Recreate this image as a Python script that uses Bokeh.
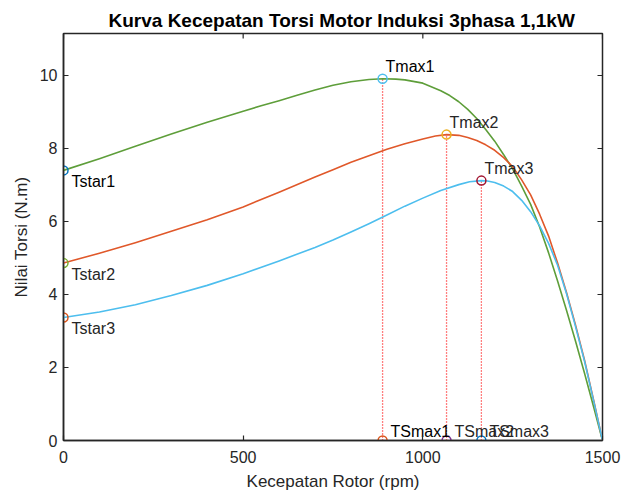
import math
from bokeh.plotting import figure
from bokeh.models import Range1d, FixedTicker
from bokeh.core.properties import value
from bokeh.embed import file_html
from bokeh.resources import INLINE

# ---- data ----
rpm1 = [0, 100, 200, 300, 400, 500, 550, 600, 650, 700, 750, 800, 850, 888, 925, 950, 1000, 1050, 1075, 1100,
        1125, 1150, 1175, 1200, 1225, 1250, 1275, 1300, 1325, 1350, 1375, 1400, 1425, 1450, 1475, 1500]
torque1 = [7.40, 7.72, 8.06, 8.40, 8.72, 9.02, 9.17, 9.31, 9.46, 9.60, 9.73, 9.83, 9.89, 9.91, 9.90, 9.88, 9.79, 9.58, 9.45, 9.28,
           9.07, 8.82, 8.52, 8.20, 7.83, 7.44, 6.97, 6.47, 5.85, 5.14, 4.37, 3.56, 2.72, 1.84, 0.93, 0.0]

rpm2 = [0, 100, 200, 300, 400, 500, 600, 700, 750, 800, 850, 900, 950, 1000, 1035, 1066, 1100, 1125, 1150, 1175,
        1200, 1225, 1250, 1275, 1300, 1325, 1350, 1375, 1400, 1425, 1450, 1475, 1500]
torque2 = [4.86, 5.13, 5.42, 5.73, 6.05, 6.40, 6.80, 7.22, 7.42, 7.62, 7.80, 7.98, 8.13, 8.26, 8.34, 8.38, 8.36, 8.30, 8.22, 8.10,
           7.95, 7.75, 7.50, 7.14, 6.73, 6.20, 5.60, 4.86, 4.05, 3.16, 2.20, 1.12, 0.0]

rpm3 = [0, 100, 200, 300, 400, 500, 600, 700, 750, 800, 850, 900, 950, 1000, 1050, 1100, 1130, 1163, 1180, 1200,
        1225, 1250, 1275, 1300, 1325, 1350, 1375, 1400, 1425, 1450, 1475, 1500]
torque3 = [3.37, 3.52, 3.72, 3.97, 4.25, 4.57, 4.92, 5.29, 5.49, 5.71, 5.94, 6.18, 6.42, 6.64, 6.85, 7.01, 7.09, 7.12, 7.11, 7.07,
           6.97, 6.82, 6.58, 6.27, 5.88, 5.40, 4.80, 4.02, 3.12, 2.17, 1.10, 0.0]

tstart = [7.40, 4.86, 3.37]
tstart_labels = ["Tstar1", "Tstar2", "Tstar3"]
nmax = [888, 1066, 1163]
tmax = [9.91, 8.38, 7.12]
tmax_labels = ["Tmax1", "Tmax2", "Tmax3"]
tsmax_labels = ["TSmax1", "TSmax2", "TSmax3"]

x_ticks = [0, 500, 1000, 1500]
y_ticks = [0, 2, 4, 6, 8, 10]
x_min, x_max = 0, 1500
y_min, y_max = 0, 11.15

curve_colors = ["#5E9E3A", "#E0582A", "#4DBEEE"]
tstar_colors = ["#0072BD", "#77AC30", "#D95319"]
tmax_colors = ["#4DBEEE", "#EDB120", "#A2142F"]
tsmax_colors = ["#D95319", "#7E2F8E", "#0072BD"]

FONT = "Liberation Sans"
TXT = "#262626"

p = figure(width=623, height=490, output_backend="svg", toolbar_location=None,
           x_range=Range1d(x_min, x_max), y_range=Range1d(y_min, y_max),
           frame_width=539, frame_height=407,
           min_border_left=63, min_border_right=21, min_border_top=33, min_border_bottom=36)

p.title.text = "Kurva Kecepatan Torsi Motor Induksi 3phasa 1,1kW"
p.title.align = "left"
p.title.offset = 45
p.title.text_font = FONT
p.title.text_font_size = "19px"
p.title.text_font_style = "bold"
p.title.text_color = "#000000"
p.title.standoff = 5

p.grid.visible = False
p.outline_line_color = "#262626"
p.outline_line_width = 1.5

for ax in (p.xaxis[0], p.yaxis[0]):
    ax.major_tick_in = 5
    ax.major_tick_out = 0
    ax.minor_tick_in = 0
    ax.minor_tick_out = 0
    ax.axis_line_color = "#262626"
    ax.axis_line_width = 1.5
    ax.major_tick_line_color = "#262626"
    ax.major_tick_line_width = 1.2
    ax.major_label_text_font = FONT
    ax.major_label_text_font_size = "16px"
    ax.major_label_text_color = TXT
    ax.axis_label_text_font = FONT
    ax.axis_label_text_font_size = "17px"
    ax.axis_label_text_font_style = "normal"
    ax.axis_label_text_color = TXT

p.xaxis[0].ticker = FixedTicker(ticks=x_ticks)
p.yaxis[0].ticker = FixedTicker(ticks=y_ticks)
p.xaxis[0].axis_label = "Kecepatan Rotor (rpm)"
p.yaxis[0].axis_label = "Nilai Torsi (N.m)"
p.xaxis[0].major_label_standoff = 10
p.yaxis[0].major_label_standoff = 6
p.xaxis[0].axis_label_standoff = 6
p.yaxis[0].axis_label_standoff = 6

# inward box ticks on the right and top edges
p.ray(x=[x_max] * len(y_ticks), y=y_ticks, length=5, length_units="screen",
      angle=math.pi, line_color="#262626", line_width=1.2)
p.ray(x=x_ticks, y=[y_max] * len(x_ticks), length=5, length_units="screen",
      angle=-math.pi / 2, line_color="#262626", line_width=1.2)

# vertical dotted lines
for n, t in zip(nmax, tmax):
    p.line([n, n], [0, t], line_color="#FF0000", line_dash="1 2", line_width=1.3)

# curves
for xs, ys, c in ((rpm1, torque1, curve_colors[0]), (rpm2, torque2, curve_colors[1]), (rpm3, torque3, curve_colors[2])):
    p.line(xs, ys, line_color=c, line_width=1.6, line_join="round")

# markers
p.scatter([0, 0, 0], tstart, marker="circle", size=9, fill_alpha=0, line_color=tstar_colors, line_width=1.5)
p.scatter(nmax, tmax, marker="circle", size=9, fill_alpha=0, line_color=tmax_colors, line_width=1.5)
p.scatter(nmax, [0, 0, 0], marker="circle", size=9, fill_alpha=0, line_color=tsmax_colors, line_width=1.5)

# labels
lab_colors = ["#000000", TXT, TXT]
p.text(x=[0, 0, 0], y=tstart, text=tstart_labels, x_offset=8, y_offset=11,
       text_font=value(FONT), text_font_size="16px", text_color=lab_colors,
       text_baseline="middle", text_align="left")
p.text(x=nmax, y=tmax, text=tmax_labels, x_offset=3, y_offset=-12,
       text_font=value(FONT), text_font_size="16px", text_color=lab_colors,
       text_baseline="middle", text_align="left")
p.text(x=nmax, y=[0, 0, 0], text=tsmax_labels, x_offset=8, y_offset=-9,
       text_font=value(FONT), text_font_size="16px", text_color=lab_colors,
       text_baseline="middle", text_align="left")

open("out.html", "w").write(file_html(p, INLINE))
